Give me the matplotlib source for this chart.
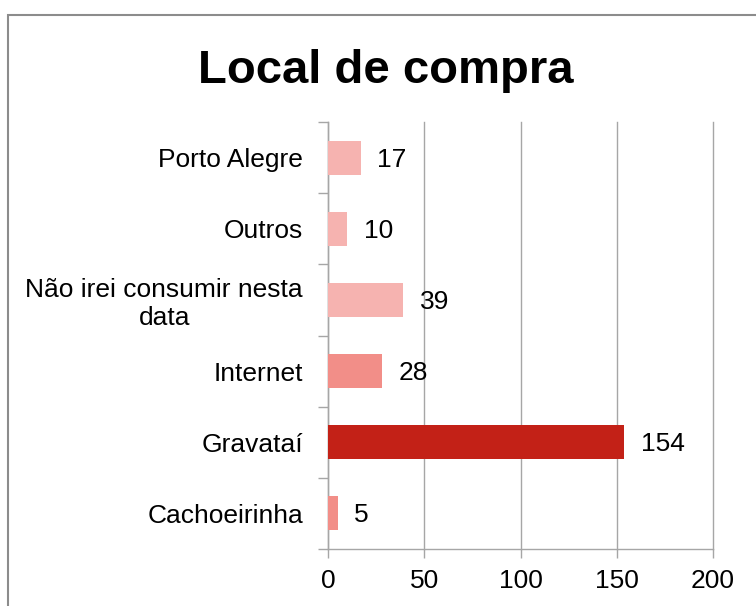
import matplotlib
matplotlib.use('Agg')
import matplotlib.pyplot as plt
from matplotlib.patches import Rectangle
import numpy as np

plt.rcParams['font.family'] = ['Liberation Sans', 'DejaVu Sans']

# data (bottom to top)
categories = ["Cachoeirinha", "Gravataí", "Internet", "Não irei consumir nesta\ndata", "Outros", "Porto Alegre"]
values = [5, 154, 28, 39, 10, 17]
colors = ["#F28E88", "#C32117", "#F28E88", "#F6B3B0", "#F6B3B0", "#F6B3B0"]
xticks = [0, 50, 100, 150, 200]

W, H = 756, 606
fig = plt.figure(figsize=(W / 100, H / 100), dpi=100)
ax = fig.add_axes([328 / W, 1 - 549 / H, (713 - 328) / W, (549 - 122) / H])

grey = "#A6A6A6"
y = np.arange(len(categories))
ax.barh(y, values, height=0.48, color=colors, zorder=3)

for yi, v in zip(y, values):
    ax.annotate(str(v), (v, yi), xytext=(12, -1.5), textcoords='offset points',
                ha='left', va='center', fontsize=19, color='black', zorder=4)

ax.set_xlim(0, 200)
ax.set_ylim(-0.5, len(categories) - 0.5)
ax.set_xticks(xticks)
ax.set_xticklabels([str(t) for t in xticks], fontsize=19)
ax.set_yticks(y)
ax.set_yticklabels(categories, fontsize=19, multialignment='center')
ax.set_yticks(np.arange(-0.5, len(categories)), minor=True)

ax.tick_params(axis='y', which='major', length=0, pad=18)
ax.tick_params(axis='y', which='minor', length=7, width=1, color=grey)
ax.tick_params(axis='x', which='major', length=6.5, width=1, color=grey, pad=8)

ax.grid(axis='x', color=grey, linewidth=1, zorder=0)
for gl in ax.get_xgridlines():
    gl.set_clip_on(False)
for s in ['top', 'right']:
    ax.spines[s].set_visible(False)
for s in ['left', 'bottom']:
    ax.spines[s].set_color(grey)
    ax.spines[s].set_linewidth(1)

fig.text(386 / W, 1 - 83 / H, "Local de compra", ha='center', va='baseline',
         fontsize=34, fontweight='bold')

# chart border (runs off the right and bottom edges)
fig.patches.append(Rectangle((7.5 / W, -0.1), 1.2, 1.1 - 14.5 / H, transform=fig.transFigure,
                             fill=False, edgecolor="#8C8C8C", linewidth=1.5))

fig.savefig("out.png", dpi=100)
